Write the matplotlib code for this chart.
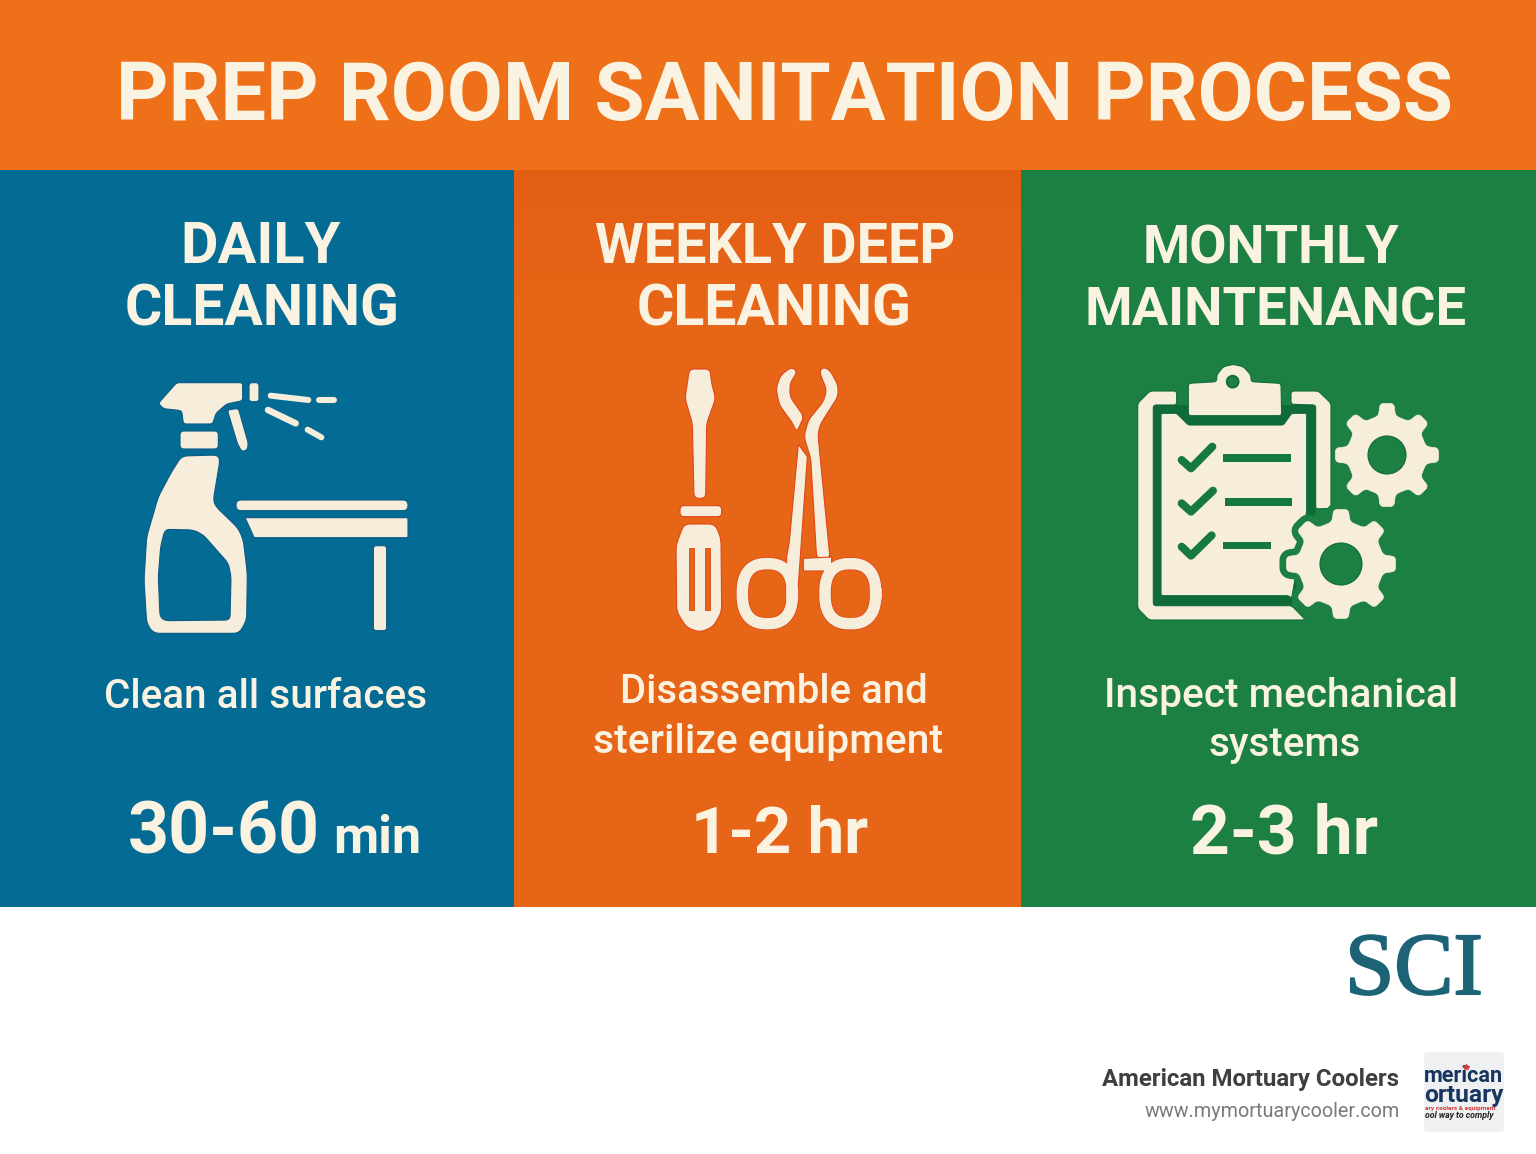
import numpy as np
from matplotlib import pyplot as plt
from matplotlib import patheffects
from matplotlib.patches import Polygon, Rectangle, Circle, FancyBboxPatch
from matplotlib.lines import Line2D

# ---------------------------------------------------------
# content
# ---------------------------------------------------------
titleText = "PREP ROOM SANITATION PROCESS"
headings = [["DAILY", "CLEANING"], ["WEEKLY DEEP", "CLEANING"], ["MONTHLY", "MAINTENANCE"]]
bodies = [["Clean all surfaces"], ["Disassemble and", "sterilize equipment"], ["Inspect mechanical", "systems"]]
times = ["30-60", "1-2 hr", "2-3 hr"]
timeUnit = "min"
brandName = "American Mortuary Coolers"
brandUrl = "www.mymortuarycooler.com"

# colours
ORANGE_TOP = '#ee7019'
BLUE = '#046c94'
ORANGE = '#e76517'
GREEN = '#1c8043'
DARKGREEN = '#0f6c38'
LINEGREEN = '#167a3f'
CREAM = '#f6eddb'
TEXTCREAM = '#fbf3e2'

W, H = 1536, 1154
fig = plt.figure(figsize=(W / 100, H / 100), dpi=100)
ax = fig.add_axes([0, 0, 1, 1])
ax.set_xlim(0, W)
ax.set_ylim(H, 0)
ax.axis('off')
renderer = fig.canvas.get_renderer()


# ---------------------------------------------------------
# helpers
# ---------------------------------------------------------
def fit_text(s, x0, x1, base, color=TEXTCREAM, weight='bold', family='Roboto', size=40, **kw):
    # put text on baseline, font size picked so it spans x0..x1 pixels
    t = ax.text(x0, base, s, color=color, fontweight=weight, family=family, fontsize=size,
                ha='left', va='baseline', **kw)
    w = t.get_window_extent(renderer).width
    t.set_fontsize(size * (x1 - x0) / w)
    return t


def soften(pts, rad=2.5):
    # round every corner by a fixed distance, long edges stay straight
    pts = np.asarray(pts, float)
    out = []
    n = len(pts)
    for i in range(n):
        p = pts[i]
        a = pts[i - 1]
        b = pts[(i + 1) % n]
        da = min(rad, np.linalg.norm(a - p) / 2)
        db = min(rad, np.linalg.norm(b - p) / 2)
        s = p + (a - p) / np.linalg.norm(a - p) * da
        e = p + (b - p) / np.linalg.norm(b - p) * db
        for t in np.linspace(0, 1, 6):
            out.append((1 - t) ** 2 * s + 2 * t * (1 - t) * p + t ** 2 * e)
    return np.array(out)


def zoomed(pts, ox, oy):
    # icon outlines were read at 3x from the crop
    pts = np.asarray(pts, float)
    return pts / 3 + [ox, oy]


def shape(pts, ox, oy, fc=CREAM, ec=None, lw=0.8, z=3, rad=3):
    p = soften(zoomed(pts, ox, oy), rad)
    ax.add_patch(Polygon(p, closed=True, fc=fc, ec=ec if ec else fc, lw=lw, joinstyle='round', zorder=z))


def pill(x0, y0, x1, y1, ox, oy, rad, fc=CREAM, ec=None, z=3):
    a = zoomed([[x0, y0], [x1, y1]], ox, oy)
    ax.add_patch(FancyBboxPatch(a[0], a[1][0] - a[0][0], a[1][1] - a[0][1],
                                boxstyle="round,pad=0,rounding_size=%f" % rad,
                                fc=fc, ec=ec if ec else fc, lw=0.8, zorder=z))


def stroke(pts, ox, oy, width, color=CREAM, z=3):
    p = zoomed(pts, ox, oy)
    ax.add_line(Line2D(p[:, 0], p[:, 1], color=color, lw=width * 0.72, solid_capstyle='round',
                       solid_joinstyle='round', zorder=z))


def gear(cx, cy, rOut, rRoot, rHole, halo=0, teeth=8):
    angs = []
    rads = []
    step = 2 * np.pi / teeth
    for i in range(teeth):
        c = i * step
        angs += [c - 0.27 * step, c - 0.17 * step, c + 0.17 * step, c + 0.27 * step]
        rads += [rRoot, rOut, rOut, rRoot]
    angs = np.array(angs)
    rads = np.array(rads)
    pts = np.column_stack([cx + rads * np.cos(angs), cy + rads * np.sin(angs)])
    pts = soften(pts, 4)
    if halo:
        ax.add_patch(Polygon(pts, closed=True, fc=GREEN, ec=GREEN, lw=halo * 1.44, joinstyle='round', zorder=5))
    ax.add_patch(Polygon(pts, closed=True, fc=CREAM, ec=CREAM, lw=0.5, joinstyle='round', zorder=6))
    ax.add_patch(Circle((cx, cy), rHole, fc=GREEN, ec=DARKGREEN, lw=0.8, zorder=7))


def ring(cx, cy, w, h, ox, oy, width, color=CREAM, edge='#e0461a'):
    # scissor finger loop, slightly square ellipse
    t = np.linspace(0, 2 * np.pi, 80)
    e = 2 / 2.5
    x = cx + w / 2 * np.sign(np.cos(t)) * np.abs(np.cos(t)) ** e
    y = cy + h / 2 * np.sign(np.sin(t)) * np.abs(np.sin(t)) ** e
    p = zoomed(np.column_stack([x, y]), ox, oy)
    ax.add_line(Line2D(p[:, 0], p[:, 1], color=edge, lw=(width + 1.5) * 0.72, zorder=2.9))
    ax.add_line(Line2D(p[:, 0], p[:, 1], color=color, lw=width * 0.72, zorder=3))


# ---------------------------------------------------------
# panels
# ---------------------------------------------------------
ax.add_patch(Rectangle((0, 0), W, H, fc='white', ec='none', zorder=0))
ax.add_patch(Rectangle((0, 0), W, 170, fc=ORANGE_TOP, ec='none', zorder=1))
ax.add_patch(Rectangle((0, 170), 514, 737, fc=BLUE, ec='none', zorder=1))
ax.add_patch(Rectangle((514, 170), 507, 737, fc=ORANGE, ec='none', zorder=1))
ax.add_patch(Rectangle((1021, 170), 515, 737, fc=GREEN, ec='none', zorder=1))
# top of the middle panel is a little darker
grad = np.linspace(0, 1, 100).reshape(-1, 1)
ax.imshow(grad, extent=(514, 1021, 300, 170), cmap=plt.cm.colors.LinearSegmentedColormap.from_list(
    'o', ['#e25e15', ORANGE]), aspect='auto', zorder=1.5, vmin=0, vmax=1)
ax.set_xlim(0, W)
ax.set_ylim(H, 0)

# ---------------------------------------------------------
# text in the panels
# ---------------------------------------------------------
fit_text(titleText, 116, 1453, 120)

headSpans = [[(180, 340), (125, 400)], [(595, 955), (637, 912)], [(1143, 1400), (1084, 1465)]]
headBase = [263, 325]
for col in range(3):
    for row in range(2):
        x0, x1 = headSpans[col][row]
        fit_text(headings[col][row], x0, x1, headBase[row])

fit_text(bodies[0][0], 104, 427, 708, weight='medium')
fit_text(bodies[1][0], 620, 928, 703, weight='medium')
fit_text(bodies[1][1], 593, 943, 753, weight='medium')
fit_text(bodies[2][0], 1104, 1458, 707, weight='medium')
fit_text(bodies[2][1], 1208, 1360, 756, weight='medium')

fit_text(times[0], 128, 320, 853)
fit_text(timeUnit, 333, 421, 853)
fit_text(times[1], 691, 868, 853)
fit_text(times[2], 1190, 1378, 853)

# ---------------------------------------------------------
# spray bottle and table
# ---------------------------------------------------------
ox, oy = 130, 360
edge = '#0b5a86'
shape([(140, 68), (338, 68), (338, 122), (290, 132), (258, 160), (248, 192), (160, 192), (155, 152), (100, 146), (85, 130)], ox, oy, ec=edge)
pill(150, 213, 265, 267, ox, oy, 4, ec=edge)
pill(357, 68, 387, 125, ox, oy, 3, ec=edge)
shape([(292, 150), (325, 145), (355, 250), (352, 270), (335, 275), (322, 250)], ox, oy, ec=edge)
shape([(155, 288), (262, 285), (270, 300), (250, 420), (258, 440), (325, 505), (340, 540), (352, 640), (350, 780),
       (328, 820), (70, 820), (50, 790), (42, 660), (50, 530), (85, 410), (125, 335)], ox, oy, ec=edge, rad=6)
shape([(105, 508), (190, 510), (220, 525), (295, 610), (303, 650), (300, 780), (105, 782), (90, 770), (85, 650), (92, 560)],
      ox, oy, fc=BLUE, ec=edge, z=4, rad=5)
stroke([(422, 107), (535, 120)], ox, oy, 6)
stroke([(568, 119), (613, 119)], ox, oy, 6)
stroke([(414, 150), (497, 190)], ox, oy, 6.5)
stroke([(533, 209), (574, 232)], ox, oy, 6)
pill(318, 420, 834, 452, ox, oy, 5, ec=edge)
shape([(345, 473), (834, 473), (834, 533), (372, 533), (360, 505)], ox, oy, ec=edge, rad=1.5)
pill(730, 557, 770, 812, ox, oy, 3, ec=edge)

# ---------------------------------------------------------
# screwdriver and forceps
# ---------------------------------------------------------
ox, oy = 660, 355
edge = '#e0461a'
shape([(88, 42), (150, 42), (155, 85), (167, 130), (140, 205), (137, 430), (102, 430), (97, 205), (75, 130), (82, 85)], ox, oy, ec=edge, rad=5)
pill(60, 452, 185, 485, ox, oy, 4, ec=edge)
shape([(72, 507), (165, 507), (183, 550), (185, 770), (160, 815), (120, 832), (80, 818), (50, 770), (48, 570)], ox, oy, ec=edge, rad=6)
ax.add_patch(Rectangle((660 + 88 / 3, 355 + 580 / 3), 14 / 3, 185 / 3, fc=ORANGE, ec=edge, lw=0.6, zorder=4))
ax.add_patch(Rectangle((660 + 136 / 3, 355 + 580 / 3), 14 / 3, 185 / 3, fc=ORANGE, ec=edge, lw=0.6, zorder=4))

shape([(395, 36), (412, 50), (390, 85), (390, 125), (432, 185), (410, 232), (398, 205), (358, 150), (348, 100), (362, 60)], ox, oy, ec=edge, rad=5)
shape([(415, 268), (442, 305), (415, 690), (380, 690), (380, 605), (388, 560)], ox, oy, ec=edge, rad=1)
shape([(478, 50), (490, 36), (510, 46), (534, 90), (534, 125), (505, 170), (480, 210), (474, 240), (510, 610), (470, 610),
       (452, 310), (432, 245), (445, 195), (490, 140), (500, 105)], ox, oy, ec=edge, rad=5)
shape([(430, 610), (515, 606), (515, 648), (430, 648)], ox, oy, ec=edge, rad=1)
ring(322, 716, 150, 180, ox, oy, 11.5)
ring(571, 716, 152, 180, ox, oy, 11.5)

# ---------------------------------------------------------
# clipboard and gears
# ---------------------------------------------------------
ox, oy = 1125, 355
edge = DARKGREEN
# dark gap under the sheet goes first
ax.add_patch(Polygon(zoomed([(85, 150), (572, 150), (572, 470), (500, 752), (85, 752)], ox, oy), fc=DARKGREEN, ec='none', zorder=2.5))
shape([(155, 108), (75, 108), (38, 145), (38, 760), (72, 795), (542, 795), (500, 752), (85, 752), (85, 150), (155, 150)], ox, oy, ec=edge)
shape([(498, 108), (580, 108), (618, 145), (618, 460), (572, 462), (572, 150), (498, 148)], ox, oy, ec=edge)
shape([(108, 175), (155, 175), (190, 210), (475, 210), (500, 175), (545, 175), (545, 470), (500, 730), (490, 722), (108, 722)], ox, oy, ec=edge, rad=2)
shape([(190, 85), (275, 80), (275, 60), (295, 35), (325, 28), (355, 35), (378, 60), (378, 80), (468, 85), (470, 182), (190, 182)], ox, oy, ec=edge, rad=3)
ax.add_patch(Circle((ox + 323 / 3, oy + 80 / 3), 6, fc=GREEN, ec=DARKGREEN, lw=1.2, zorder=5))
checks = [[(170, 315), (198, 340), (262, 275)], [(170, 445), (198, 470), (264, 407)], [(170, 575), (198, 602), (260, 541)]]
for c in checks:
    stroke(c, ox, oy, 8, color=LINEGREEN, z=4)
for x0, y0, x1, y1 in [(295, 298, 497, 322), (300, 430, 500, 452), (294, 561, 438, 583)]:
    a = zoomed([[x0, y0], [x1, y1]], ox, oy)
    ax.add_patch(Rectangle(a[0], a[1][0] - a[0][0], a[1][1] - a[0][1], fc=LINEGREEN, ec='none', zorder=4))

gear(1387, 455, 52, 40, 19)
gear(1341, 564, 55, 43, 21, halo=7)

# ---------------------------------------------------------
# footer
# ---------------------------------------------------------
sci = fit_text("SCI", 1345, 1483, 994, color='#1d6376', weight='normal', family='Liberation Serif')
sci.set_path_effects([patheffects.withStroke(linewidth=1.5, foreground='#1d6376')])
fit_text(brandName, 1102, 1400, 1086, color='#3f3f3f', weight='bold')
fit_text(brandUrl, 1145, 1400, 1117, color='#7a7a7a', weight='normal')

logo = FancyBboxPatch((1424, 1052), 80, 80, boxstyle="round,pad=0,rounding_size=4", fc='#eef0f1', ec='none', zorder=2)
ax.add_patch(logo)
for s, x0, x1, base, col, st in [("merican", 1424, 1503, 1082, '#17355e', 'normal'),
                                 ("ortuary", 1424, 1503, 1102, '#17355e', 'normal'),
                                 ("ary coolers & equipment", 1425, 1495, 1110, '#d23a3a', 'normal'),
                                 ("ool way to comply", 1425, 1494, 1118, '#222222', 'italic')]:
    t = fit_text(s, x0, x1, base, color=col, style=st, zorder=3)
    t.set_clip_path(logo)
ax.plot([1466], [1067], marker='*', color='#d23a3a', ms=4, zorder=3)

fig.savefig('out.png', dpi=100)
